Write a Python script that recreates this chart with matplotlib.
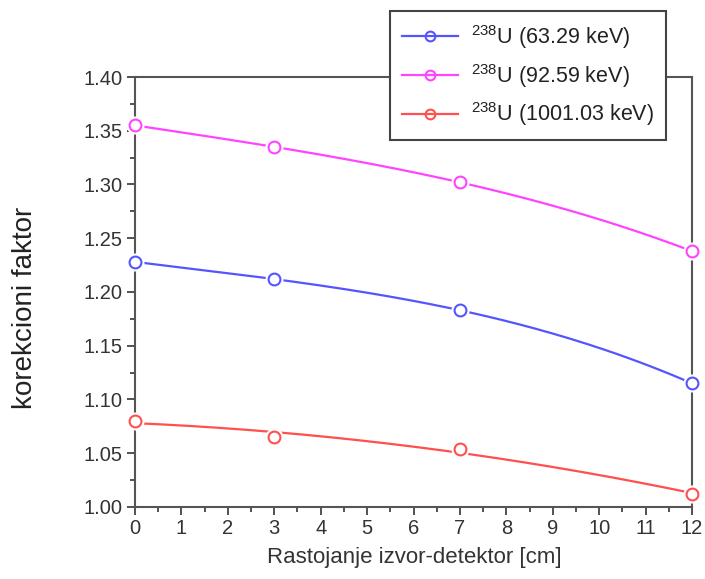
import numpy as np
import matplotlib
matplotlib.use("Agg")
import matplotlib.pyplot as plt
from matplotlib.ticker import MultipleLocator, FormatStrFormatter

plt.rcParams['font.family'] = ['Liberation Sans', 'DejaVu Sans']
plt.rcParams['mathtext.fontset'] = 'custom'
plt.rcParams['mathtext.rm'] = 'Liberation Sans'
plt.rcParams['mathtext.it'] = 'Liberation Sans'

distance = [0, 3, 7, 12]
u_63 = [1.228, 1.212, 1.183, 1.115]
u_92 = [1.355, 1.335, 1.302, 1.238]
u_1001 = [1.080, 1.065, 1.054, 1.012]
labels = [r'$^{238}$U (63.29 keV)', r'$^{238}$U (92.59 keV)', r'$^{238}$U (1001.03 keV)']
colors = ['#5555ff', '#ff44ff', '#ff4f4f']
fit_degree = [3, 3, 2]

fig = plt.figure(figsize=(7.05, 5.79), dpi=100)
ax = fig.add_axes([0.1915, 0.1244, 0.7901, 0.7426])

xs = np.linspace(0, 12, 200)
handles = []
for ys, c, deg in zip([u_63, u_92, u_1001], colors, fit_degree):
    coef = np.polyfit(distance, ys, deg)
    ax.plot(xs, np.polyval(coef, xs), color=c, lw=1.6, zorder=2)
    ax.plot(distance, ys, 'o', mfc='white', mec='white', ms=12, mew=1, zorder=3, clip_on=False)
    ax.plot(distance, ys, 'o', mfc='none', mec=c, ms=8.5, mew=1.5, zorder=4, clip_on=False)
    h, = ax.plot([], [], '-o', color=c, mfc='none', mec=c, ms=7, mew=1.5, lw=1.6)
    handles.append(h)

ax.set_xlim(0, 12)
ax.set_ylim(1.00, 1.40)
ax.xaxis.set_major_locator(MultipleLocator(1))
ax.xaxis.set_minor_locator(MultipleLocator(0.5))
ax.yaxis.set_major_locator(MultipleLocator(0.05))
ax.yaxis.set_minor_locator(MultipleLocator(0.025))
ax.yaxis.set_major_formatter(FormatStrFormatter('%.2f'))
ax.tick_params(which='both', direction='out', top=False, right=False, color='#444444', width=1.3)
ax.tick_params(which='major', length=6, labelsize=14.5, labelcolor='#333333', pad=3)
ax.tick_params(which='minor', length=3.5)
for s in ax.spines.values():
    s.set_color('#555555')
    s.set_linewidth(1.5)

ax.set_xlabel('Rastojanje izvor-detektor [cm]', fontsize=16, color='#333333')
ax.xaxis.set_label_coords(0.501, -0.093)
ax.set_ylabel('korekcioni faktor', fontsize=20, color='#222222')
ax.yaxis.set_label_coords(-0.174, 0.463)

leg = ax.legend(handles, labels, loc='upper left', bbox_to_anchor=(0.458, 1.153),
                bbox_transform=ax.transAxes, borderaxespad=0, fontsize=15.5, frameon=True,
                fancybox=False, edgecolor='#444444', framealpha=1, handlelength=2.6,
                borderpad=0.55, labelspacing=0.5, handletextpad=0.6)
leg.get_frame().set_linewidth(1.5)
leg.set_zorder(5)
for t in leg.get_texts():
    t.set_color('#222222')

fig.savefig('out.png', dpi=100)
